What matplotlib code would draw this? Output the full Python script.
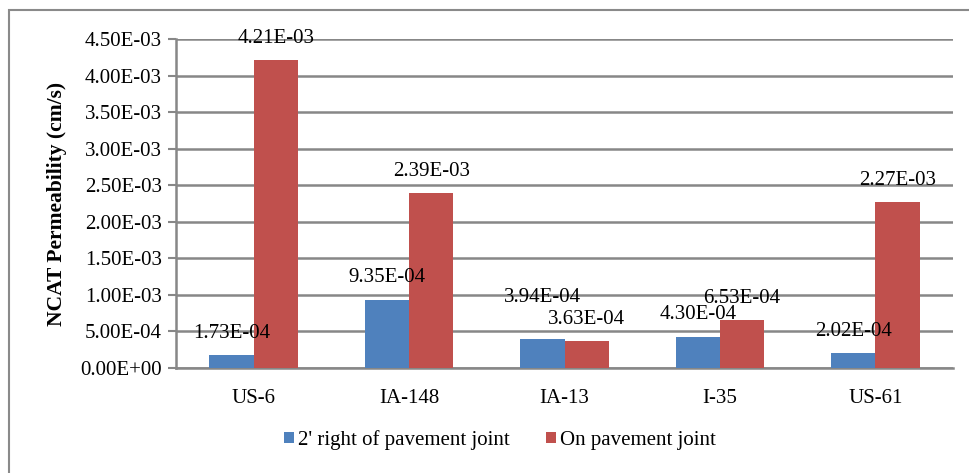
import matplotlib
matplotlib.use("Agg")
import matplotlib.pyplot as plt
import numpy as np
from matplotlib.patches import Rectangle
from matplotlib.ticker import FuncFormatter, MultipleLocator

# data
sites = ["US-6", "IA-148", "IA-13", "I-35", "US-61"]
right_of_joint = [1.73e-4, 9.35e-4, 3.94e-4, 4.30e-4, 2.02e-4]
on_joint = [4.21e-3, 2.39e-3, 3.63e-4, 6.53e-4, 2.27e-3]
series_names = ["2' right of pavement joint", "On pavement joint"]

# vertical label offsets (pixels above bar top), as in the original chart
blue_offsets = [22, 22, 42, 22, 22]
red_offsets = [22, 22, 22, 22, 22]

plt.rcParams['font.family'] = ['Liberation Serif', 'DejaVu Serif']
FS = 15

W, H = 969, 473
fig = plt.figure(figsize=(W / 100, H / 100), dpi=100)
ax = fig.add_axes([176 / W, 1 - 368 / H, (953 - 176) / W, (368 - 39) / H])

blue = "#4F81BD"
red = "#C0504D"
grid_c = "#878787"

x = np.arange(len(sites))
w = 0.285
b1 = ax.bar(x - w / 2, right_of_joint, w, color=blue, label=series_names[0], zorder=3)
b2 = ax.bar(x + w / 2, on_joint, w, color=red, label=series_names[1], zorder=3)

for bars, vals, offs in [(b1, right_of_joint, blue_offsets), (b2, on_joint, red_offsets)]:
    for rect, v, dy in zip(bars, vals, offs):
        ax.annotate(f"{v:.2E}", xy=(rect.get_x() + rect.get_width() / 2, v),
                    xytext=(0, dy), textcoords='offset pixels',
                    ha='center', va='center', fontsize=FS, zorder=4)

ax.set_xlim(-0.5, len(sites) - 0.5)
ax.set_ylim(0, 4.5e-3)
ax.yaxis.set_major_locator(MultipleLocator(5e-4))
ax.yaxis.set_major_formatter(FuncFormatter(lambda v, p: f"{v:.2E}"))
ax.set_xticks(x)
ax.set_xticklabels(sites)
ax.tick_params(axis='x', length=0, labelsize=FS, pad=15)
ax.tick_params(axis='y', length=6, width=1.5, color=grid_c, labelsize=FS, pad=4)

ax.grid(axis='y', color=grid_c, linewidth=1.8, zorder=0)
for s in ['top', 'right']:
    ax.spines[s].set_visible(False)
for s in ['left', 'bottom']:
    ax.spines[s].set_color(grid_c)
    ax.spines[s].set_linewidth(1.8)

ax.set_ylabel("NCAT Permeability (cm/s)", fontsize=15.5, fontweight='bold', labelpad=10)

fig.legend(loc='center', bbox_to_anchor=(500 / W, 1 - 440 / H), ncol=2, frameon=False,
           fontsize=FS, handlelength=0.5, handleheight=0.5, handletextpad=0.2, columnspacing=1.7)

# outer chart border
fig.patches.append(Rectangle((9 / W, -0.1), 1.2, 1.1 - 10 / H, transform=fig.transFigure,
                             fill=False, edgecolor="#8a8a8a", linewidth=1.5))

fig.savefig("out.png", dpi=100)
